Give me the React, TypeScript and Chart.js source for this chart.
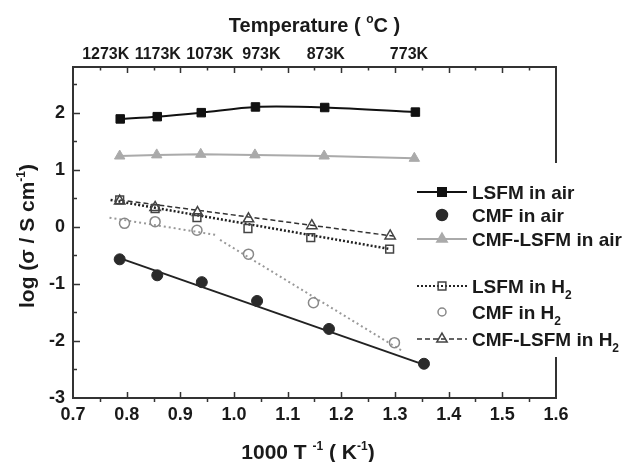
import React, { useEffect, useRef } from 'react';
import { Chart, registerables } from 'chart.js';
import { drawPoint } from 'chart.js/helpers';

Chart.register(...registerables);

const FONT = '"Liberation Sans", Arial, Helvetica, sans-serif';

// ---- data ----
const lsfmAirX = [0.788, 0.857, 0.939, 1.040, 1.169, 1.338];
const lsfmAirY = [1.89, 1.93, 2.00, 2.10, 2.09, 2.01];

const cmfAirX = [0.787, 0.857, 0.940, 1.043, 1.177, 1.354];
const cmfAirY = [-0.57, -0.85, -0.97, -1.30, -1.79, -2.40];
const cmfAirFitX = [0.787, 1.355];
const cmfAirFitY = [-0.55, -2.42];

const cmfLsfmAirX = [0.787, 0.856, 0.938, 1.039, 1.168, 1.336];
const cmfLsfmAirY = [1.24, 1.26, 1.27, 1.26, 1.24, 1.20];

const lsfmH2X = [0.787, 0.853, 0.931, 1.026, 1.143, 1.290];
const lsfmH2Y = [0.47, 0.32, 0.16, -0.03, -0.19, -0.39];
const lsfmH2FitX = [0.77, 1.291];
const lsfmH2FitY = [0.47, -0.39];

const cmfH2X = [0.796, 0.853, 0.931, 1.027, 1.148, 1.299];
const cmfH2Y = [0.06, 0.09, -0.06, -0.48, -1.33, -2.03];
const cmfH2Fit1X = [0.768, 0.968];
const cmfH2Fit1Y = [0.16, -0.145];
const cmfH2Fit2X = [0.974, 1.316];
const cmfH2Fit2Y = [-0.23, -2.19];

const cmfLsfmH2X = [0.787, 0.853, 0.932, 1.027, 1.145, 1.291];
const cmfLsfmH2Y = [0.45, 0.34, 0.25, 0.14, 0.02, -0.16];
const cmfLsfmH2FitX = [0.787, 1.297];
const cmfLsfmH2FitY = [0.47, -0.163];

const xTickMin = 0.7;
const xTickMax = 1.6;
const yTickMin = -3;
const yTickMax = 2.8;

const topTickValues = [0.761, 0.858, 0.955, 1.051, 1.171, 1.326];
const topTickLabels = ['1273K', '1173K', '1073K', '973K', '873K', '773K'];

const pts = (xs: number[], ys: number[]) => xs.map((x, i) => ({ x, y: ys[i] }));

type Seg = { t: string; size: number; dy?: number };

function richWidth(ctx: CanvasRenderingContext2D, segs: Seg[]) {
  let w = 0;
  for (const s of segs) {
    ctx.font = `bold ${s.size}px ${FONT}`;
    w += ctx.measureText(s.t).width;
  }
  return w;
}

function drawRich(ctx: CanvasRenderingContext2D, segs: Seg[], x: number, baseline: number, align: 'left' | 'center') {
  const w = richWidth(ctx, segs);
  let cx = align === 'center' ? x - w / 2 : x;
  ctx.textAlign = 'left';
  ctx.textBaseline = 'alphabetic';
  for (const s of segs) {
    ctx.font = `bold ${s.size}px ${FONT}`;
    ctx.fillText(s.t, cx, baseline + (s.dy || 0));
    cx += ctx.measureText(s.t).width;
  }
}

const decorPlugin = {
  id: 'decor',
  afterDraw(chart: any) {
    const ctx: CanvasRenderingContext2D = chart.ctx;
    const { left, right, top, bottom } = chart.chartArea;
    const xs = chart.scales.x;
    const ys = chart.scales.y;
    ctx.save();

    // tick marks
    ctx.strokeStyle = '#333';
    ctx.lineWidth = 1.5;
    ctx.beginPath();
    for (let k = 15; k <= 31; k++) {
      const px = Math.round(xs.getPixelForValue(k / 20)) + 0.5;
      const major = k % 2 === 0;
      if (major) {
        ctx.moveTo(px, bottom); ctx.lineTo(px, bottom - 6);
        ctx.moveTo(px, top); ctx.lineTo(px, top + 6);
      } else {
        ctx.moveTo(px, bottom); ctx.lineTo(px, bottom + 4);
        ctx.moveTo(px, top); ctx.lineTo(px, top + 3.5);
      }
    }
    for (let k = -5; k <= 5; k++) {
      const py = Math.round(ys.getPixelForValue(k / 2)) + 0.5;
      const major = k % 2 === 0;
      ctx.moveTo(left, py); ctx.lineTo(left + (major ? 7 : 4), py);
    }
    ctx.stroke();

    // frame
    ctx.lineWidth = 2;
    ctx.strokeStyle = '#333';
    ctx.strokeRect(left, top, right - left, bottom - top);

    // titles
    ctx.fillStyle = '#1a1a1a';
    drawRich(ctx, [
      { t: 'Temperature ( ', size: 20 },
      { t: 'o', size: 12, dy: -9 },
      { t: 'C )', size: 20 },
    ], (left + right) / 2, 32, 'center');

    drawRich(ctx, [
      { t: '1000 T ', size: 21 },
      { t: '-1', size: 12, dy: -9 },
      { t: ' ( K', size: 21 },
      { t: '-1', size: 12, dy: -9 },
      { t: ')', size: 21 },
    ], 308, 459, 'center');

    ctx.save();
    ctx.translate(34, 236);
    ctx.rotate(-Math.PI / 2);
    drawRich(ctx, [
      { t: 'log (σ / S cm', size: 21 },
      { t: '-1', size: 12, dy: -9 },
      { t: ')', size: 21 },
    ], 0, 0, 'center');
    ctx.restore();

    // legend
    ctx.fillStyle = '#fff';
    ctx.fillRect(414, 163, 210, 194);
    const lx0 = 417, lx1 = 467, mx = 442, tx = 472;
    const entries = [
      { y: 192, line: '#111', dash: [] as number[], lw: 2, style: 'rect', r: 6, fill: '#111', stroke: '#111', sub: false, text: 'LSFM in air' },
      { y: 215, line: null, dash: [], lw: 2, style: 'circle', r: 5.5, fill: '#2a2a2a', stroke: '#2a2a2a', sub: false, text: 'CMF in air' },
      { y: 239, line: '#aaa', dash: [], lw: 2, style: 'triangle', r: 6, fill: '#aaa', stroke: '#aaa', sub: false, text: 'CMF-LSFM in air' },
      { y: 286, line: '#222', dash: [2, 2], lw: 2, style: 'rect', r: 5.5, fill: 'rgba(0,0,0,0)', stroke: '#444', sub: true, text: 'LSFM in H' },
      { y: 312, line: null, dash: [], lw: 2, style: 'circle', r: 4, fill: 'rgba(0,0,0,0)', stroke: '#888', sub: true, text: 'CMF in H' },
      { y: 339, line: '#333', dash: [5, 3], lw: 1.5, style: 'triangle', r: 6, fill: 'rgba(0,0,0,0)', stroke: '#444', sub: true, text: 'CMF-LSFM in H' },
    ];
    for (const e of entries) {
      if (e.line) {
        ctx.strokeStyle = e.line;
        ctx.lineWidth = e.lw;
        ctx.setLineDash(e.dash);
        ctx.beginPath();
        ctx.moveTo(lx0, e.y);
        ctx.lineTo(lx1, e.y);
        ctx.stroke();
        ctx.setLineDash([]);
      }
      ctx.fillStyle = e.fill;
      ctx.strokeStyle = e.stroke;
      ctx.lineWidth = 1.5;
      drawPoint(ctx, { pointStyle: e.style as any, rotation: 0, radius: e.r, borderWidth: 1.5 }, mx, e.y);
      ctx.fillStyle = '#1a1a1a';
      const segs: Seg[] = [{ t: e.text, size: 19 }];
      if (e.sub) segs.push({ t: '2', size: 12, dy: 6 });
      drawRich(ctx, segs, tx, e.y + 7, 'left');
    }
    ctx.restore();
  },
};

export default function App() {
  const ref = useRef<HTMLCanvasElement | null>(null);
  useEffect(() => {
    if (!ref.current) return;
    const tickFont = { family: FONT, size: 18, weight: 'bold' as const };
    const chart = new Chart(ref.current, {
      type: 'scatter',
      data: {
        datasets: [
          { label: 'LSFM in air', data: pts(lsfmAirX, lsfmAirY), showLine: true, tension: 0.3, borderColor: '#111', borderWidth: 2, backgroundColor: '#111', pointStyle: 'rect', pointRadius: 6, pointBorderWidth: 1 },
          { label: 'CMF-LSFM in air', data: pts(cmfLsfmAirX, cmfLsfmAirY), showLine: true, borderColor: '#aaa', borderWidth: 2, backgroundColor: '#aaa', pointStyle: 'triangle', pointRadius: 6, pointBorderWidth: 1 },
          { label: 'CMF in air', data: pts(cmfAirX, cmfAirY), showLine: false, borderColor: '#2a2a2a', backgroundColor: '#2a2a2a', pointStyle: 'circle', pointRadius: 5.5, pointBorderWidth: 1 },
          { label: 'LSFM in H2', data: pts(lsfmH2X, lsfmH2Y), showLine: false, borderColor: '#444', backgroundColor: 'rgba(0,0,0,0)', pointStyle: 'rect', pointRadius: 5.5, pointBorderWidth: 1.5 },
          { label: 'CMF in H2', data: pts(cmfH2X, cmfH2Y), showLine: false, borderColor: '#888', backgroundColor: 'rgba(0,0,0,0)', pointStyle: 'circle', pointRadius: 5, pointBorderWidth: 1.5 },
          { label: 'CMF-LSFM in H2', data: pts(cmfLsfmH2X, cmfLsfmH2Y), showLine: false, borderColor: '#444', backgroundColor: 'rgba(0,0,0,0)', pointStyle: 'triangle', pointRadius: 6, pointBorderWidth: 1.5 },
          { label: 'CMF air fit', data: pts(cmfAirFitX, cmfAirFitY), showLine: true, borderColor: '#222', borderWidth: 2, pointRadius: 0 },
          { label: 'LSFM H2 fit', data: pts(lsfmH2FitX, lsfmH2FitY), showLine: true, borderColor: '#222', borderWidth: 2.5, borderDash: [2, 2], pointRadius: 0 },
          { label: 'CMF H2 fit 1', data: pts(cmfH2Fit1X, cmfH2Fit1Y), showLine: true, borderColor: '#999', borderWidth: 2, borderDash: [2, 3], pointRadius: 0 },
          { label: 'CMF H2 fit 2', data: pts(cmfH2Fit2X, cmfH2Fit2Y), showLine: true, borderColor: '#999', borderWidth: 2, borderDash: [2, 3], pointRadius: 0 },
          { label: 'CMF-LSFM H2 fit', data: pts(cmfLsfmH2FitX, cmfLsfmH2FitY), showLine: true, borderColor: '#333', borderWidth: 1.5, borderDash: [5, 3], pointRadius: 0 },
        ],
      },
      options: {
        animation: false,
        responsive: false,
        devicePixelRatio: 1,
        layout: { padding: { left: 0, right: 68, top: 0, bottom: 0 } },
        plugins: { legend: { display: false }, tooltip: { enabled: false } },
        scales: {
          x: {
            type: 'linear', position: 'bottom', min: xTickMin, max: xTickMax,
            grid: { display: false, drawTicks: false },
            border: { display: false },
            ticks: { stepSize: 0.1, font: tickFont, color: '#1a1a1a', padding: 6, callback: (v: any) => Number(v).toFixed(1), autoSkip: false, maxRotation: 0 },
            afterFit: (s: any) => { s.height = 64; },
          },
          x2: {
            type: 'linear', position: 'top', min: xTickMin, max: xTickMax,
            grid: { display: false, drawTicks: false },
            border: { display: false },
            afterBuildTicks: (s: any) => { s.ticks = topTickValues.map((value) => ({ value })); },
            ticks: { font: { family: FONT, size: 16, weight: 'bold' }, color: '#1a1a1a', padding: 3, autoSkip: false, maxRotation: 0, callback: (_v: any, i: number) => topTickLabels[i] },
            afterFit: (s: any) => { s.height = 67; },
          },
          y: {
            type: 'linear', position: 'left', min: yTickMin, max: yTickMax,
            grid: { display: false, drawTicks: false },
            border: { display: false },
            ticks: { stepSize: 1, includeBounds: false, font: tickFont, color: '#1a1a1a', padding: 8 },
            afterFit: (s: any) => { s.width = 73; },
          },
        },
      },
      plugins: [decorPlugin],
    });
    return () => chart.destroy();
  }, []);
  return (
    <div style={{ position: 'absolute', left: 0, top: 0, width: 624, height: 462, background: '#fff' }}>
      <canvas ref={ref} width={624} height={462} />
    </div>
  );
}
